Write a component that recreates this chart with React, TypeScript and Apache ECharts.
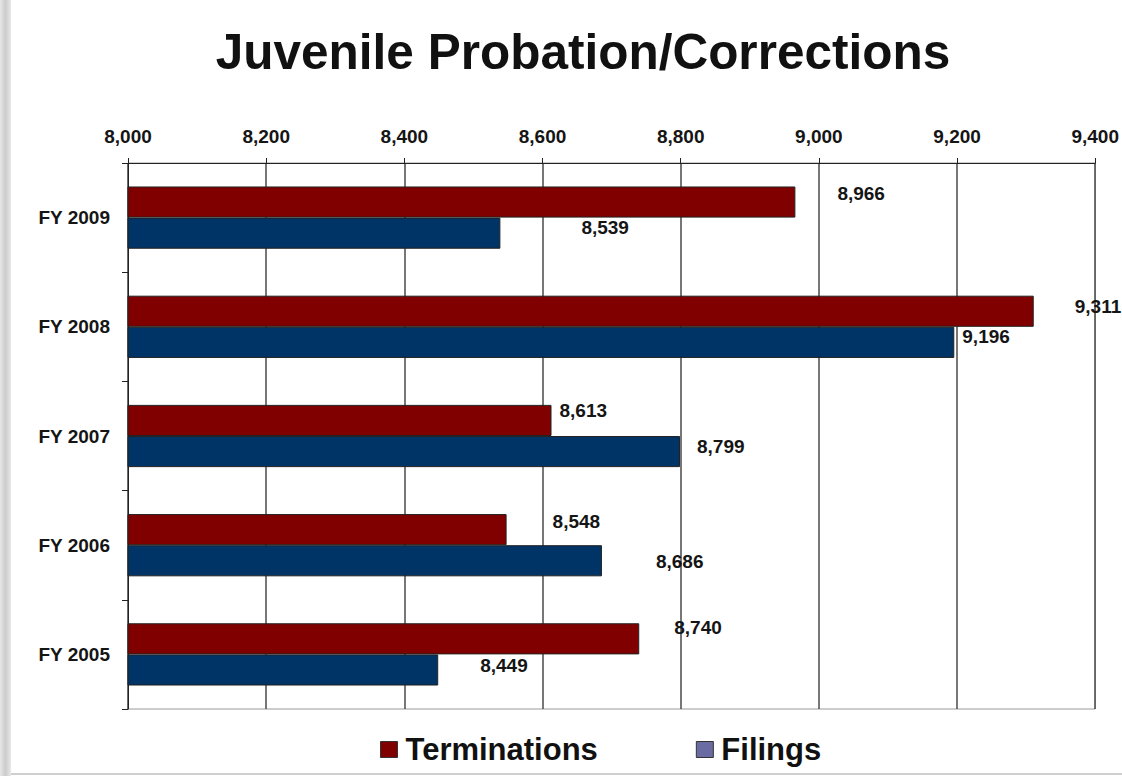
import React, { useEffect, useRef } from "react";
import * as echarts from "echarts";

const categories = ["FY 2009", "FY 2008", "FY 2007", "FY 2006", "FY 2005"];
const terminations = [8966, 9311, 8613, 8548, 8740];
const filings = [8539, 9196, 8799, 8686, 8449];
const axisMin = 8000;
const axisMax = 9400;
const axisStep = 200;

// label nudges (styling only), matching the hand-placed labels of the original
const termLabelNudge = [[42, -9], [41, -5], [8, -10], [46, -8], [35, -11]];
const filLabelNudge = [[81, -6], [8, -6], [17, -5], [54, 1], [42, -4]];

const FONT = "Arial, 'Liberation Sans', sans-serif";
const fmt = (v: number) => v.toLocaleString("en-US");

export default function App() {
  const ref = useRef<HTMLDivElement>(null);
  useEffect(() => {
    document.body.style.margin = "0";
    const chart = echarts.init(ref.current!, null, { renderer: "svg" });
    const labelBase = {
      show: true,
      position: "right",
      distance: 0,
      fontFamily: FONT,
      fontWeight: "bold",
      fontSize: 19,
      color: "#151515",
      formatter: (p: any) => fmt(p.value),
    };
    chart.setOption({
      animation: false,
      backgroundColor: "#ffffff",
      title: {
        text: "Juvenile Probation/Corrections",
        left: 578,
        textAlign: "center",
        top: 21,
        textStyle: { fontFamily: FONT, fontWeight: "bold", fontSize: 49.5, color: "#111" },
      },
      legend: {
        left: 375,
        top: 729,
        itemWidth: 17,
        itemHeight: 16,
        itemGap: 98,
        icon: "rect",
        textStyle: { fontFamily: FONT, fontWeight: "bold", fontSize: 31, color: "#111", padding: [0, 0, 0, 3] },
        data: [
          { name: "Terminations", itemStyle: { color: "#800000", borderColor: "#333", borderWidth: 1 } },
          { name: "Filings", itemStyle: { color: "#6b6ba3", borderColor: "#333", borderWidth: 1 } },
        ],
      },
      graphic: [
        {
          type: "rect",
          shape: { x: 0, y: 0, width: 11, height: 776 },
          style: {
            fill: new echarts.graphic.LinearGradient(0, 0, 1, 0, [
              { offset: 0, color: "#e6e6e6" },
              { offset: 0.5, color: "#cccccc" },
              { offset: 1, color: "#e8e8e8" },
            ]),
          },
          silent: true,
        },
        {
          type: "line",
          shape: { x1: 11, y1: 774, x2: 1122, y2: 774 },
          style: { stroke: "#cfcfcf", lineWidth: 2 },
          silent: true,
        },
      ],
      grid: {
        left: 128,
        right: 26,
        top: 163,
        bottom: 67,
        show: true,
        borderColor: "#9a9a9a",
        borderWidth: 1,
      },
      xAxis: {
        type: "value",
        position: "top",
        min: axisMin,
        max: axisMax,
        interval: axisStep,
        axisLine: { show: true, lineStyle: { color: "#222", width: 1 } },
        axisTick: { show: true, length: 5, lineStyle: { color: "#222" } },
        axisLabel: {
          margin: 17,
          fontFamily: FONT,
          fontWeight: "bold",
          fontSize: 19,
          color: "#151515",
          formatter: (v: number) => fmt(v),
        },
        splitLine: { show: true, lineStyle: { color: "#4a4a4a", width: 1.5 } },
      },
      yAxis: {
        type: "category",
        inverse: true,
        data: categories,
        axisLine: { show: true, lineStyle: { color: "#222", width: 1 } },
        axisTick: { show: true, length: 6, lineStyle: { color: "#222" } },
        axisLabel: {
          margin: 18,
          fontFamily: FONT,
          fontWeight: "bold",
          fontSize: 19,
          color: "#151515",
        },
      },
      series: [
        {
          name: "Terminations",
          type: "bar",
          barGap: "0%",
          barCategoryGap: "43%",
          itemStyle: { color: "#800000", borderColor: "#222", borderWidth: 1 },
          data: terminations.map((v, i) => ({
            value: v,
            label: { ...labelBase, offset: termLabelNudge[i] },
          })),
        },
        {
          name: "Filings",
          type: "bar",
          barGap: "0%",
          barCategoryGap: "43%",
          itemStyle: { color: "#003366", borderColor: "#222", borderWidth: 1 },
          data: filings.map((v, i) => ({
            value: v,
            label: { ...labelBase, offset: filLabelNudge[i] },
          })),
        },
      ],
    });
    return () => chart.dispose();
  }, []);
  return (
    <div
      ref={ref}
      style={{ position: "absolute", left: 0, top: 0, width: 1122, height: 776 }}
    />
  );
}
